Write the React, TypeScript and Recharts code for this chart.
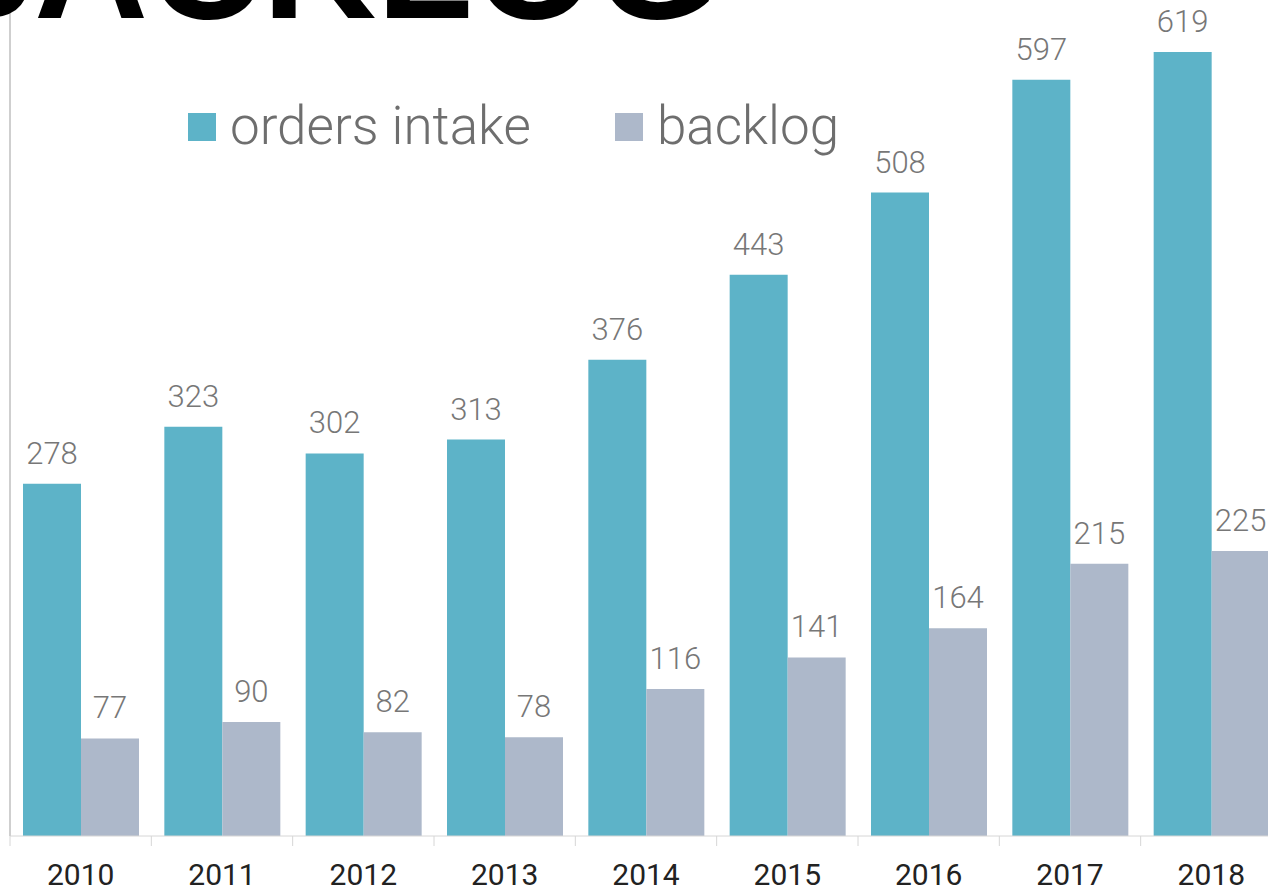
import { BarChart, Bar, XAxis, YAxis, LabelList, Legend } from 'recharts'

const years = ['2010', '2011', '2012', '2013', '2014', '2015', '2016', '2017', '2018']
const ordersIntake = [278, 323, 302, 313, 376, 443, 508, 597, 619]
const backlog = [77, 90, 82, 78, 116, 141, 164, 215, 225]

const TEAL = '#5DB3C8'
const GREY = '#ADB8CA'
const AXIS = '#D6D6D6'
const TICK_MARGIN = 28

const data = years.map((year, i) => ({ year, orders: ordersIntake[i], backlog: backlog[i] }))

// year label plus a small separator tick at the left edge of each band
function YearTick(props: any) {
  const { x, y, payload } = props
  const half = payload.offset ?? 0
  const axisY = y - TICK_MARGIN
  return (
    <g>
      <line x1={x - half} x2={x - half} y1={axisY} y2={axisY + 10} stroke={AXIS} />
      <text x={x} y={y} dy="0.71em" textAnchor="middle" fontSize={30} fill="#222" fontFamily="Roboto">
        {payload.value}
      </text>
    </g>
  )
}

function LegendContent() {
  const items = [
    { name: 'orders intake', color: TEAL },
    { name: 'backlog', color: GREY },
  ]
  return (
    <div style={{ display: 'flex', alignItems: 'center', fontFamily: 'Roboto', fontWeight: 300 }}>
      {items.map((it, i) => (
        <div key={it.name} style={{ display: 'flex', alignItems: 'center', marginRight: i === 0 ? 84 : 0 }}>
          <span style={{ width: 28, height: 28, background: it.color, marginRight: 14, display: 'inline-block' }} />
          <span style={{ fontSize: 53, color: '#6E6E6E', lineHeight: 1 }}>{it.name}</span>
        </div>
      ))}
    </div>
  )
}

export default function App() {
  return (
    <div style={{ position: 'absolute', top: 0, left: 0, width: 1268, height: 892, overflow: 'hidden', background: '#fff' }}>
      <BarChart
        width={1282}
        height={892}
        data={data}
        margin={{ top: 0, right: 0, bottom: 0, left: 0 }}
        barCategoryGap={13}
        barGap={0}
      >
        <XAxis
          dataKey="year"
          tickLine={false}
          axisLine={{ stroke: AXIS }}
          tickSize={0}
          tickMargin={TICK_MARGIN}
          height={56}
          interval={0}
          tick={<YearTick />}
        />
        <YAxis width={10} domain={[0, 660]} tick={false} tickLine={false} axisLine={{ stroke: '#CFCFCF', strokeWidth: 2 }} />
        <Legend
          layout="horizontal"
          verticalAlign="middle"
          align="center"
          content={<LegendContent />}
          wrapperStyle={{ top: 100, left: 188, width: 'auto' }}
        />
        <Bar dataKey="orders" name="orders intake" fill={TEAL} isAnimationActive={false}>
          <LabelList dataKey="orders" position="top" offset={20} fill="#777" fontSize={31} fontFamily="Roboto" fontWeight={300} />
        </Bar>
        <Bar dataKey="backlog" name="backlog" fill={GREY} isAnimationActive={false}>
          <LabelList dataKey="backlog" position="top" offset={20} fill="#777" fontSize={31} fontFamily="Roboto" fontWeight={300} />
        </Bar>
      </BarChart>
      <svg width={1268} height={892} style={{ position: 'absolute', top: 0, left: 0, pointerEvents: 'none' }}>
        <text x={-80} y={18} fontSize={158} fontWeight={900} fontFamily="Liberation Sans, Arial, sans-serif" fill="#000">
          BACKLOG
        </text>
      </svg>
    </div>
  )
}
